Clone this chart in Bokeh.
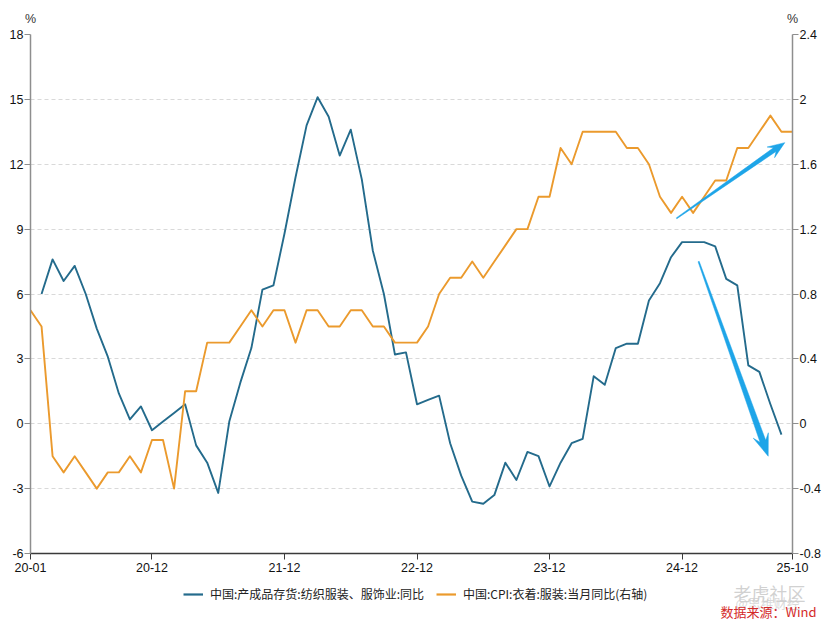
import math
from bokeh.plotting import figure
from bokeh.layouts import column
from bokeh.models import Range1d, LinearAxis, FixedTicker, Legend, LegendItem, Label
from bokeh.embed import file_html
from bokeh.resources import INLINE

# ---------------- data ----------------
months = []
for yy in range(20, 26):
    for mm in range(1, 13):
        months.append(f"{yy:02d}-{mm:02d}")
months = months[:months.index("25-10") + 1]

inventory_label = "中国:产成品存货:纺织服装、服饰业:同比"
inventory_start = "20-02"
inventory_yoy = [
    6.0, 7.6, 6.6, 7.3, 6.0, 4.4, 3.1, 1.4, 0.2, 0.8, -0.3,          # 20-02 .. 20-12
    0.1, 0.5, 0.9, -1.0, -1.8, -3.2, 0.1, 1.9, 3.5, 6.2, 6.4, 8.8,   # 21-01 .. 21-12
    11.4, 13.8, 15.1, 14.2, 12.4, 13.6, 11.3, 8.0, 6.0, 3.2, 3.3, 0.9,  # 22-01 .. 22-12
    1.1, 1.3, -0.9, -2.4, -3.6, -3.7, -3.3, -1.8, -2.6, -1.3, -1.5, -2.9,  # 23-01 .. 23-12
    -1.8, -0.9, -0.7, 2.2, 1.8, 3.5, 3.7, 3.7, 5.7, 6.5, 7.7, 8.4,  # 24-01 .. 24-12
    8.4, 8.4, 8.2, 6.7, 6.4, 2.7, 2.4, 0.9, -0.5,                   # 25-01 .. 25-09
]

cpi_label = "中国:CPI:衣着:服装:当月同比(右轴)"
cpi_start = "20-01"
cpi_clothing_yoy = [
    0.7, 0.6, -0.2, -0.3, -0.2, -0.3, -0.4, -0.3, -0.3, -0.2, -0.3, -0.1,  # 2020
    -0.1, -0.4, 0.2, 0.2, 0.5, 0.5, 0.5, 0.6, 0.7, 0.6, 0.7, 0.7,        # 2021
    0.5, 0.7, 0.7, 0.6, 0.6, 0.7, 0.7, 0.6, 0.6, 0.5, 0.5, 0.5,          # 2022
    0.6, 0.8, 0.9, 0.9, 1.0, 0.9, 1.0, 1.1, 1.2, 1.2, 1.4, 1.4,          # 2023
    1.7, 1.6, 1.8, 1.8, 1.8, 1.8, 1.7, 1.7, 1.6, 1.4, 1.3, 1.4,          # 2024
    1.3, 1.4, 1.5, 1.5, 1.7, 1.7, 1.8, 1.9, 1.8, 1.8,                    # 2025-01 .. 25-10
]

x_tick_labels = ["20-01", "20-12", "21-12", "22-12", "23-12", "24-12", "25-10"]
left_ticks = [18, 15, 12, 9, 6, 3, 0, -3, -6]
left_tick_labels = ["18", "15", "12", "9", "6", "3", "0", "-3", "-6"]
right_ticks = [2.4, 2.0, 1.6, 1.2, 0.8, 0.4, 0.0, -0.4, -0.8]
right_tick_labels = ["2.4", "2", "1.6", "1.2", "0.8", "0.4", "0", "-0.4", "-0.8"]
unit_label = "%"

# annotation arrows (start/end in month index & left-axis value)
arrow_up = (58.5, 9.5, 68.3, 13.0)
arrow_down = (60.5, 7.5, 66.8, -1.5)

# ---------------- styling / layout ----------------
BLUE = "#246b8c"
ORANGE = "#eb9a2d"
ARROW = "#1ea5e8"
AXIS_GREY = "#8e8e8e"
TICK_FONT = "Liberation Sans"
CJK_FONT = "Noto Sans CJK SC"
TICK_SIZE = "12.5px"

W = 828
H_MAIN, H_FOOT = 577, 45
BL, BR, BT, BB = 30, 36, 34, 24
FW, FH = W - BL - BR, H_MAIN - BT - BB

x0, x1 = 0, len(months) - 1
yl0, yl1 = left_ticks[-1], left_ticks[0]
yr0, yr1 = right_ticks[-1], right_ticks[0]

p = figure(width=W, height=H_MAIN, x_range=Range1d(x0, x1), y_range=Range1d(yl0, yl1),
           output_backend="svg", toolbar_location=None,
           min_border_left=BL, min_border_right=BR, min_border_top=BT, min_border_bottom=BB)
p.extra_y_ranges = {"right": Range1d(yr0, yr1)}
p.outline_line_color = None
p.background_fill_color = "white"
p.border_fill_color = "white"

# grid
p.xgrid.visible = False
p.ygrid.ticker = FixedTicker(ticks=left_ticks)
p.ygrid.grid_line_color = "#d9d9d9"
p.ygrid.grid_line_dash = "4 3"
p.ygrid.grid_line_width = 1


def style_axis(ax, line_color, tick_out, standoff):
    ax.axis_line_color = line_color
    ax.axis_line_width = 1.5
    ax.major_tick_line_color = line_color
    ax.major_tick_line_width = 1
    ax.major_tick_out = tick_out
    ax.major_tick_in = 0
    ax.minor_tick_line_color = None
    ax.major_label_standoff = standoff
    ax.major_label_text_font = TICK_FONT
    ax.major_label_text_font_size = TICK_SIZE
    ax.major_label_text_color = "#111111"


# bottom axis
xa = p.xaxis[0]
xa.ticker = FixedTicker(ticks=[months.index(t) for t in x_tick_labels])
xa.major_label_overrides = {months.index(t): t for t in x_tick_labels}
style_axis(xa, "#3a3a3a", 6, 3)

# left axis
ya = p.yaxis[0]
ya.ticker = FixedTicker(ticks=left_ticks)
ya.major_label_overrides = dict(zip(left_ticks, left_tick_labels))
style_axis(ya, AXIS_GREY, 6, 1)

# right axis
ra = LinearAxis(y_range_name="right", ticker=FixedTicker(ticks=right_ticks))
ra.major_label_overrides = dict(zip(right_ticks, right_tick_labels))
style_axis(ra, AXIS_GREY, 6, 1)
p.add_layout(ra, "right")

# unit labels "%" above both value axes (an unlined axis on top)
ta = LinearAxis(ticker=FixedTicker(ticks=[x0, x1]))
ta.major_label_overrides = {x0: unit_label, x1: unit_label}
style_axis(ta, None, 0, 9)
ta.axis_line_color = None
ta.major_tick_line_color = None
ta.major_label_text_color = "#333333"
p.add_layout(ta, "above")

# series
inv_x = list(range(months.index(inventory_start), months.index(inventory_start) + len(inventory_yoy)))
cpi_x = list(range(months.index(cpi_start), months.index(cpi_start) + len(cpi_clothing_yoy)))

p.line(inv_x, inventory_yoy, line_color=BLUE, line_width=1.9, line_join="round")
p.line(cpi_x, cpi_clothing_yoy, line_color=ORANGE, line_width=1.9, line_join="round",
       y_range_name="right")

# tapered arrows (annotations)
sx = FW / (x1 - x0)
sy = FH / (yl1 - yl0)


def tapered_arrow(a, w0, w1, head_len, head_w):
    ax0, ay0, ax1, ay1 = a
    X0, Y0, X1, Y1 = ax0 * sx, ay0 * sy, ax1 * sx, ay1 * sy
    dx, dy = X1 - X0, Y1 - Y0
    L = math.hypot(dx, dy)
    ux, uy = dx / L, dy / L
    nx, ny = -uy, ux
    pts = [(0, w0 / 2), (L - head_len * 0.72, w1 / 2), (L - head_len, head_w / 2), (L, 0),
           (L - head_len, -head_w / 2), (L - head_len * 0.72, -w1 / 2), (0, -w0 / 2)]
    xs = [(X0 + u * ux + v * nx) / sx for u, v in pts]
    ys = [(Y0 + u * uy + v * ny) / sy for u, v in pts]
    return xs, ys


for a, dims in ((arrow_up, (1.0, 4.5, 17, 13)), (arrow_down, (1.2, 6.0, 22, 16))):
    xs, ys = tapered_arrow(a, *dims)
    p.patch(xs, ys, fill_color=ARROW, line_color=ARROW, line_width=0.5)

# ---------------- footer: legend, watermark, source ----------------
foot = figure(width=W, height=H_FOOT, x_range=Range1d(0, W), y_range=Range1d(H_MAIN + H_FOOT, H_MAIN),
              x_axis_type=None, y_axis_type=None, output_backend="svg", toolbar_location=None,
              min_border=0)
foot.outline_line_color = None
foot.background_fill_color = "white"
foot.border_fill_color = "white"

for fig in (p, foot):
    if "frame_align" in fig.properties():
        fig.frame_align = False

nan = float("nan")
k_inv = foot.line([nan], [nan], line_color=BLUE, line_width=2.2)
k_cpi = foot.line([nan], [nan], line_color=ORANGE, line_width=2.2)
legend = Legend(items=[LegendItem(label=inventory_label, renderers=[k_inv]),
                       LegendItem(label=cpi_label, renderers=[k_cpi])],
                orientation="horizontal", location=(183, 20),
                label_text_font=CJK_FONT, label_text_font_size="12px", label_text_color="#222222",
                glyph_width=20, glyph_height=12, label_standoff=7, spacing=12,
                padding=0, margin=0, border_line_color=None, background_fill_alpha=0)
foot.add_layout(legend, "center")

foot.add_layout(Label(x=733, y=592, text="老虎社区", text_align="left", text_baseline="middle",
                      text_font=CJK_FONT, text_font_size="18px", text_color="#bdbdbd", text_alpha=0.7))
foot.add_layout(Label(x=735, y=602, text="@思维财经", text_align="left", text_baseline="middle",
                      text_font=CJK_FONT, text_font_size="13px", text_color="#cfcfcf", text_alpha=0.8))
foot.add_layout(Label(x=816, y=611, text="数据来源：Wind", text_align="right", text_baseline="middle",
                      text_font=CJK_FONT, text_font_size="13px", text_color="#d42a2a"))

layout = column(p, foot, spacing=0)
open("out.html", "w").write(file_html(layout, INLINE))
